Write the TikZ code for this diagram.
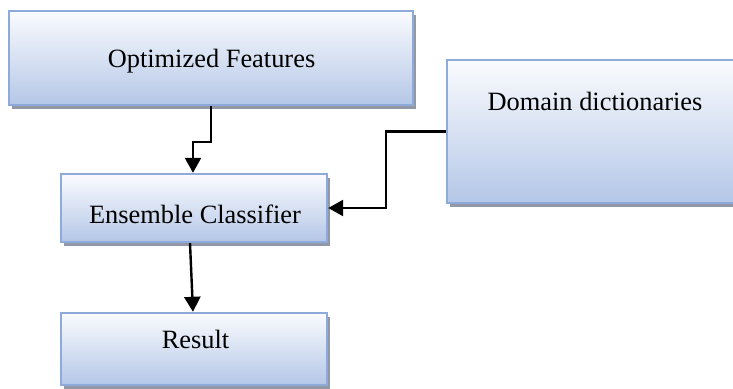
\documentclass[tikz,border=0pt]{standalone}
\usepackage{fontspec}
\setmainfont{Liberation Serif}
\usetikzlibrary{arrows.meta,shadows}
\definecolor{boxedge}{RGB}{142,170,219}
\definecolor{boxtop}{RGB}{250,251,254}
\definecolor{boxbottom}{RGB}{180,199,231}
\definecolor{boxshadow}{RGB}{128,134,150}
\tikzset{
  flowbox/.style={rectangle, draw=boxedge, line width=2.4bp, inner sep=0pt,
    top color=boxtop, bottom color=boxbottom,
    drop shadow={shadow xshift=3bp, shadow yshift=-4bp, fill=boxshadow, opacity=0.85}},
  boxtext/.style={font=\fontsize{26.5}{30}\selectfont, inner sep=0pt},
  flowarrow/.style={draw=black, line width=2.4bp,
    -{Triangle[length=15bp,width=16bp]}}
}
\begin{document}
\begin{tikzpicture}[x=1bp, y=-1bp]
\useasboundingbox (0,0) rectangle (733,388);
% boxes
\node[flowbox, minimum width=404bp, minimum height=94bp] (opt) at (211,58) {};
\node[flowbox, minimum width=298bp, minimum height=143bp] (dom) at (596,131.5) {};
\node[flowbox, minimum width=266bp, minimum height=68bp] (ens) at (194,208) {};
\node[flowbox, minimum width=266bp, minimum height=72bp] (res) at (194,349) {};
% labels
\node[boxtext] (optlabel) at (211.5,61) {Optimized Features};
\node[boxtext] (domlabel) at (595,101) {Domain dictionaries};
\node[boxtext] (enslabel) at (195,214) {Ensemble Classifier};
\node[boxtext] (reslabel) at (195.5,339) {Result};
% connectors
\draw[flowarrow] (opt.south) -- ++(0,36) -| ([xshift=-1bp]ens.north);
\draw[flowarrow] (dom.west) -- ++(-60,0) |- (ens.east);
\draw[flowarrow] ([xshift=-4bp]ens.south) -- ([xshift=-1bp]res.north);
\end{tikzpicture}
\end{document}
